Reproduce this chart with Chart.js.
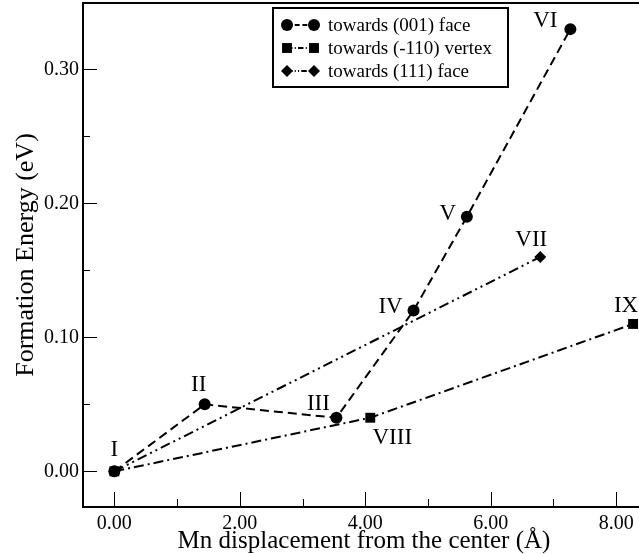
<!DOCTYPE html>
<html>
<head>
<meta charset="utf-8">
<script src="https://cdn.jsdelivr.net/npm/chart.js@4.4.1/dist/chart.umd.min.js"></script>
<style>
  html, body { margin: 0; padding: 0; background: #fff; overflow: hidden; }
  #wrap { width: 645px; height: 554px; }
</style>
</head>
<body>
<div id="wrap"><canvas id="chart"></canvas></div>
<script>
// data
const seriesNames = ["towards (001) face", "towards (-110) vertex", "towards (111) face"];
const face001X = [0, 1.44, 3.54, 4.77, 5.62, 7.27];
const face001Y = [0, 0.05, 0.04, 0.12, 0.19, 0.33];
const face001Labels = ["I", "II", "III", "IV", "V", "VI"];
const vertex110X = [0, 4.08, 8.27];
const vertex110Y = [0, 0.04, 0.11];
const vertex110Labels = ["", "VIII", "IX"];
const face111X = [0, 6.79];
const face111Y = [0, 0.16];
const face111Labels = ["", "VII"];

const xTickValues = [0, 1, 2, 3, 4, 5, 6, 7, 8];
const yTickValues = [0, 0.05, 0.1, 0.15, 0.2, 0.25, 0.3];

// label offsets (px) from each point, same order as the labels
const labelOffsets = [
  [[0, -21], [-6, -19], [-18, -14], [-23, -4], [-19, -3], [-25, -8]],
  [[0, 0], [22, 20], [-7, -18]],
  [[0, 0], [-9, -17]]
];

const serif = "'Liberation Serif', 'DejaVu Serif', serif";

function toPoints(xs, ys) {
  return xs.map((x, i) => ({ x: x, y: ys[i] }));
}

function isMajorX(v) { return Math.abs(v % 2) < 1e-9; }
function isMajorY(v) { return Math.abs(Math.round(v * 10) - v * 10) < 1e-9; }

function noPadding(s) {
  s.paddingTop = 0;
  s.paddingBottom = 0;
  s.paddingLeft = 0;
  s.paddingRight = 0;
}

const datasets = [
  {
    label: seriesNames[0],
    data: toPoints(face001X, face001Y),
    pointLabels: face001Labels,
    borderDash: [9, 5],
    pointStyle: "circle",
    pointRadius: 6
  },
  {
    label: seriesNames[1],
    data: toPoints(vertex110X, vertex110Y),
    pointLabels: vertex110Labels,
    borderDash: [10, 4, 2, 4],
    pointStyle: "rect",
    pointRadius: 7
  },
  {
    label: seriesNames[2],
    data: toPoints(face111X, face111Y),
    pointLabels: face111Labels,
    borderDash: [10, 4, 2, 4, 2, 4],
    pointStyle: "rectRot",
    pointRadius: 6
  }
].map((d) => Object.assign({
  borderColor: "#000",
  backgroundColor: "#000",
  borderWidth: 2,
  pointBorderWidth: 0,
  pointHoverRadius: d.pointRadius,
  showLine: true,
  tension: 0
}, d));

// frame, inward ticks, point labels and the legend box
const framePlugin = {
  id: "frame",
  afterDraw(chart) {
    const ctx = chart.ctx;
    const a = chart.chartArea;
    const xs = chart.scales.x;
    const ys = chart.scales.y;
    ctx.save();
    ctx.strokeStyle = "#000";
    ctx.lineWidth = 1;
    ctx.beginPath();
    xs.ticks.forEach((t) => {
      const px = Math.round(xs.getPixelForValue(t.value)) + 0.5;
      const len = isMajorX(t.value) ? 15 : 8;
      ctx.moveTo(px, a.bottom);
      ctx.lineTo(px, a.bottom - len);
    });
    ys.ticks.forEach((t) => {
      const py = Math.round(ys.getPixelForValue(t.value)) + 0.5;
      const len = isMajorY(t.value) ? 14 : 7;
      ctx.moveTo(a.left, py);
      ctx.lineTo(a.left + len, py);
    });
    ctx.stroke();

    ctx.lineWidth = 2;
    ctx.strokeRect(a.left, a.top, a.right - a.left, a.bottom - a.top);

    // roman numeral labels
    ctx.fillStyle = "#000";
    ctx.font = "23px " + serif;
    ctx.textAlign = "center";
    ctx.textBaseline = "middle";
    chart.data.datasets.forEach((ds, di) => {
      const meta = chart.getDatasetMeta(di);
      ds.pointLabels.forEach((lab, i) => {
        if (!lab) return;
        const el = meta.data[i];
        const off = labelOffsets[di][i];
        ctx.fillText(lab, el.x + off[0], el.y + off[1]);
      });
    });

    // legend
    const bx = 273, by = 8, bw = 235, bh = 79;
    ctx.fillStyle = "#fff";
    ctx.fillRect(bx, by, bw, bh);
    ctx.lineWidth = 2;
    ctx.strokeRect(bx, by, bw, bh);
    ctx.font = "19px " + serif;
    ctx.textAlign = "left";
    chart.data.datasets.forEach((ds, di) => {
      const y = by + 17 + di * 23;
      const x1 = bx + 14, x2 = bx + 41;
      ctx.setLineDash(ds.borderDash.map((v) => v * 0.55));
      ctx.lineWidth = 2;
      ctx.strokeStyle = "#000";
      ctx.beginPath();
      ctx.moveTo(x1, y);
      ctx.lineTo(x2, y);
      ctx.stroke();
      ctx.setLineDash([]);
      const opts = { pointStyle: ds.pointStyle, radius: ds.pointRadius, borderWidth: 0, rotation: 0 };
      ctx.fillStyle = "#000";
      Chart.helpers.drawPoint(ctx, opts, x1, y);
      Chart.helpers.drawPoint(ctx, opts, x2, y);
      ctx.fillStyle = "#000";
      ctx.fillText(ds.label, bx + 55, y + 1);
    });
    ctx.restore();
  }
};

new Chart(document.getElementById("chart"), {
  type: "scatter",
  data: { datasets: datasets },
  plugins: [framePlugin],
  options: {
    responsive: true,
    maintainAspectRatio: false,
    animation: false,
    layout: { autoPadding: false, padding: { top: 3, right: 0, left: 0, bottom: 0 } },
    plugins: {
      legend: { display: false },
      tooltip: { enabled: false }
    },
    scales: {
      x: {
        type: "linear",
        min: -0.5,
        max: 8.46,
        afterFit(s) {
          s.height = 47;
          noPadding(s);
        },
        afterBuildTicks(s) { s.ticks = xTickValues.map((v) => ({ value: v })); },
        grid: { display: false, drawTicks: false },
        border: { display: false },
        ticks: {
          color: "#000",
          padding: 5,
          maxRotation: 0,
          autoSkip: false,
          font: { family: serif, size: 20 },
          callback: (v) => (isMajorX(v) ? v.toFixed(2) : "")
        },
        title: {
          display: true,
          text: "Mn displacement from the center (Å)",
          color: "#000",
          font: { family: serif, size: 25, lineHeight: 1 },
          padding: { top: 0, bottom: 0 }
        }
      },
      y: {
        type: "linear",
        min: -0.0266,
        max: 0.3495,
        afterFit(s) {
          s.width = 83;
          noPadding(s);
        },
        afterBuildTicks(s) { s.ticks = yTickValues.map((v) => ({ value: v })); },
        grid: { display: false, drawTicks: false },
        border: { display: false },
        ticks: {
          color: "#000",
          padding: 4,
          autoSkip: false,
          font: { family: serif, size: 20 },
          callback: (v) => (isMajorY(v) ? v.toFixed(2) : "")
        },
        title: {
          display: true,
          text: "Formation Energy (eV)",
          color: "#000",
          font: { family: serif, size: 26, lineHeight: 1 },
          padding: { top: 13, bottom: 0 }
        }
      }
    }
  }
});
</script>
</body>
</html>
